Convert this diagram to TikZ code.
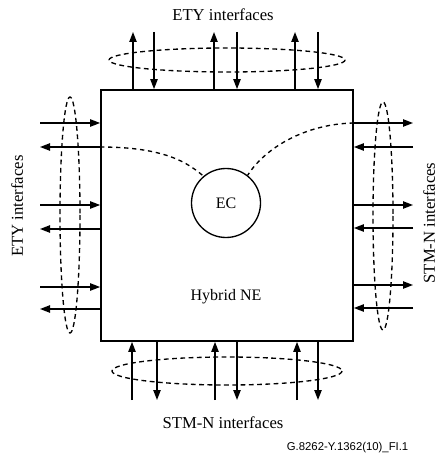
\documentclass[tikz,border=0pt]{standalone}
\usepackage{fontspec}
\setmainfont{Liberation Serif}
\newfontfamily\figfont{Liberation Sans}
\usetikzlibrary{arrows.meta, positioning}

\begin{document}
\begin{tikzpicture}[
  x=0.75pt, y=-0.75pt,
  nebox/.style = {rectangle, draw, line width=1.3pt, minimum width=189pt,
                  minimum height=188.25pt, inner sep=0pt},
  ecnode/.style = {circle, draw, line width=1pt, minimum size=51.75pt,
                   inner sep=0pt, font=\fontsize{12}{14}\selectfont},
  io/.style = {-{Triangle[length=7.5pt,width=5.5pt]}, line width=1pt},
  ring/.style = {line width=1pt, dash pattern=on 3.6pt off 2.6pt},
  link/.style = {line width=1pt, dash pattern=on 3.2pt off 2.8pt},
  lbl/.style = {font=\fontsize{12.5}{14}\selectfont, inner sep=0pt}
]
\useasboundingbox (0,0) rectangle (437,459);

\node[nebox] (ne) at (227,215.5) {};
\node[ecnode] (ec) at (226,203) {EC};
\node[lbl, font=\fontsize{12}{14}\selectfont] (hyb) at (226,297) {Hybrid NE};

% ETY interfaces (top)
\foreach \xu/\xd [count=\i] in {133/154, 214/237, 295/318} {
  \coordinate (tu\i) at (\xu,32);
  \coordinate (td\i) at (\xd,32);
  \draw[io] (tu\i |- ne.north) -- (tu\i);
  \draw[io] (td\i) -- (td\i |- ne.north);
}
\draw[ring] (227,60) ellipse [x radius=118, y radius=12];
\node[lbl] (etytop) at (223,15) {ETY interfaces};

% STM-N interfaces (bottom)
\foreach \xu/\xd [count=\i] in {132/157, 215/237, 297/318} {
  \coordinate (bu\i) at (\xu,400);
  \coordinate (bd\i) at (\xd,400);
  \draw[io] (bu\i) -- (bu\i |- ne.south);
  \draw[io] (bd\i |- ne.south) -- (bd\i);
}
\draw[ring] (227,371) ellipse [x radius=115, y radius=14];
\node[lbl] (stmbot) at (223,423) {STM-N interfaces};

% ETY interfaces (left)
\foreach \yi/\yo [count=\i] in {123/147, 205/229, 287/309} {
  \coordinate (li\i) at (40,\yi);
  \coordinate (lo\i) at (40,\yo);
  \draw[io] (li\i) -- (li\i -| ne.west);
  \draw[io] (lo\i -| ne.west) -- (lo\i);
}
\draw[ring] (70,215) ellipse [x radius=10, y radius=118];
\node[lbl, rotate=90] (etyleft) at (17,206) {ETY interfaces};

% STM-N interfaces (right)
\foreach \yo/\yi [count=\i] in {123/147, 205/228, 285/308} {
  \coordinate (ro\i) at (413,\yo);
  \coordinate (ri\i) at (413,\yi);
  \draw[io] (ro\i -| ne.east) -- (ro\i);
  \draw[io] (ri\i) -- (ri\i -| ne.east);
}
\draw[ring] (383,216) ellipse [x radius=10, y radius=114];
\node[lbl, rotate=90] (stmright) at (429,223) {STM-N interfaces};

% links to EC
\draw[link] (lo1 -| ne.west) .. controls (165,147) and (188,163) .. (ec.130);
\draw[link] (ro1 -| ne.east) .. controls (305,124) and (265,148) .. (ec.52);

\node[font=\figfont\fontsize{8.5}{10}\selectfont, anchor=east] (tag) at (413,448) {G.8262-Y.1362(10)\_FI.1};
\end{tikzpicture}
\end{document}
